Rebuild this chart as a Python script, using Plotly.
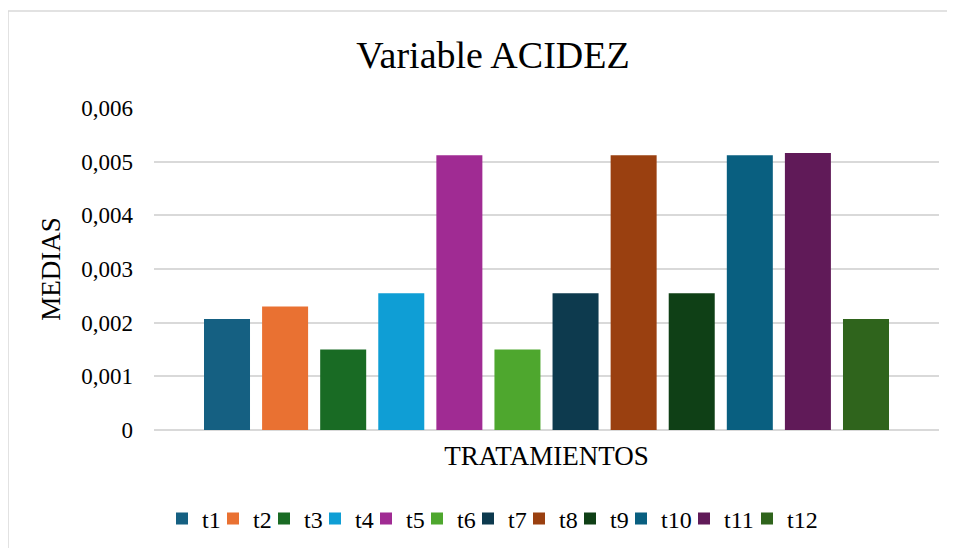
import plotly.graph_objects as go

# data
categoria = "TRATAMIENTOS"
tratamientos = ["t1", "t2", "t3", "t4", "t5", "t6", "t7", "t8", "t9", "t10", "t11", "t12"]
medias = [0.00207, 0.0023, 0.0015, 0.00255, 0.00512, 0.0015,
          0.00255, 0.00512, 0.00255, 0.00512, 0.00516, 0.00207]
colores = ["#156082", "#E97132", "#196B24", "#0F9ED5", "#A02B93", "#4EA72E",
           "#0D3A4E", "#9A4010", "#0F4016", "#095F80", "#601A58", "#2F641C"]
y_ticks = [0, 0.001, 0.002, 0.003, 0.004, 0.005, 0.006]
y_labels = ["0", "0,001", "0,002", "0,003", "0,004", "0,005", "0,006"]

FONT = "Liberation Serif"
GRID = "#d9d9d9"

# page body adds an 8px offset, so the figure is drawn 8px smaller
W, H = 947, 540
OFF = 8

fig = go.Figure()

for i, (name, val, col) in enumerate(zip(tratamientos, medias, colores)):
    # compact legend entries, last one wide enough to not get clipped
    if i == len(tratamientos) - 1:
        lw = 32
    elif len(name) > 2:
        lw = 18
    else:
        lw = 6
    fig.add_trace(
        go.Bar(
            x=[categoria],
            y=[val],
            name=name,
            marker=dict(color=col, line=dict(width=0)),
            legendwidth=lw,
        )
    )

fig.update_layout(
    width=W,
    height=H,
    margin=dict(l=154 - OFF, r=16, t=108 - OFF, b=118, autoexpand=False),
    paper_bgcolor="white",
    plot_bgcolor="white",
    font=dict(family=FONT, color="#000000", size=23),
    barmode="group",
    bargap=0.112,
    bargroupgap=0.208,
    title=dict(
        text="Variable ACIDEZ",
        font=dict(family=FONT, size=38, color="#000000"),
        x=(493 - OFF) / W,
        xanchor="center",
        y=1 - (55 - OFF) / H,
        yanchor="middle",
    ),
    xaxis=dict(
        showgrid=False,
        showline=False,
        ticks="",
        ticklabelstandoff=7,
        tickfont=dict(size=27),
    ),
    yaxis=dict(
        range=[0, 0.006],
        tickvals=y_ticks,
        ticktext=y_labels,
        showgrid=True,
        gridcolor=GRID,
        gridwidth=1.5,
        zeroline=True,
        zerolinecolor=GRID,
        zerolinewidth=1.5,
        showline=False,
        ticks="",
        ticklabelstandoff=20,
        tickfont=dict(size=23),
        title=dict(text="MEDIAS", font=dict(size=27), standoff=12),
    ),
    legend=dict(
        orientation="h",
        x=(493 - 154) / 785,
        xanchor="center",
        y=(430 - 519) / 322,
        yanchor="middle",
        font=dict(size=24),
        itemwidth=30,
        bgcolor="rgba(0,0,0,0)",
    ),
    showlegend=True,
)

# light grey chart-area border like the Excel frame
fig.add_shape(
    type="rect",
    xref="paper",
    yref="paper",
    x0=(8 - 154) / 785,
    x1=1.1,
    y0=-0.5,
    y1=(430 - 11) / 322,
    line=dict(color=GRID, width=1.5),
    fillcolor="rgba(0,0,0,0)",
    layer="below",
)

fig.write_html("out.html")
